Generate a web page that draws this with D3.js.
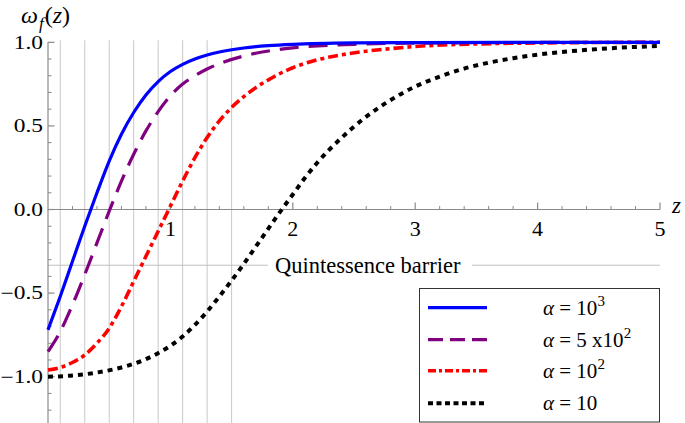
<!DOCTYPE html>
<html><head><meta charset="utf-8">
<script src="https://cdn.jsdelivr.net/npm/d3@7"></script>
</head>
<body style="margin:0">
<svg id="c" width="685" height="423"></svg>
<script>
// ---- data ----
const zBlue   = [0,0.1,0.2,0.3,0.4,0.5,0.6,0.7,0.8,0.9,1.0,1.1,1.2,1.3,1.4,1.6,1.8,2.0,2.5,3.0,4.0,5.0];
const wBlue   = [-0.72,-0.52,-0.31,-0.10,0.10,0.29,0.45,0.58,0.685,0.765,0.825,0.868,0.90,0.924,0.942,0.966,0.98,0.988,0.996,0.998,1.0,1.0];
const zPurple = [0,0.1,0.2,0.3,0.4,0.5,0.6,0.7,0.8,0.9,1.0,1.1,1.2,1.3,1.4,1.6,1.8,2.0,2.5,3.0,4.0,5.0];
const wPurple = [-0.85,-0.73,-0.57,-0.39,-0.20,-0.01,0.17,0.33,0.47,0.585,0.68,0.75,0.80,0.84,0.872,0.918,0.948,0.967,0.988,0.995,0.999,1.0];
const zRed    = [0,0.1,0.2,0.3,0.4,0.5,0.6,0.7,0.8,0.9,1.0,1.1,1.2,1.3,1.4,1.5,1.6,1.7,1.8,1.9,2.0,2.2,2.4,2.6,2.8,3.0,3.5,4.0,5.0];
const wRed    = [-0.96,-0.945,-0.915,-0.87,-0.80,-0.71,-0.58,-0.43,-0.28,-0.13,0.02,0.17,0.31,0.43,0.53,0.61,0.675,0.73,0.775,0.815,0.848,0.895,0.925,0.947,0.962,0.975,0.99,0.996,1.0];
const zBlack  = [0,0.2,0.4,0.6,0.8,1.0,1.1,1.2,1.3,1.4,1.5,1.6,1.7,1.8,1.9,2.0,2.1,2.2,2.4,2.6,2.8,3.0,3.2,3.4,3.6,3.8,4.0,4.5,5.0];
const wBlack  = [-1.0,-0.993,-0.975,-0.945,-0.895,-0.815,-0.76,-0.69,-0.61,-0.52,-0.425,-0.325,-0.22,-0.115,-0.01,0.09,0.19,0.28,0.43,0.555,0.655,0.735,0.795,0.843,0.878,0.905,0.926,0.96,0.978];

const seriesLabels = ["10^3","5 x10^2","10^2","10"];
const xTicks = [1,2,3,4,5];
const yTicks = [-1.0,-0.5,0.0,0.5,1.0];
const gridZ = [0.1,0.3,0.5,0.7,0.9,1.1,1.3,1.5];
const barrier = -1/3;

const svg = d3.select("#c");
const x = d3.scaleLinear().domain([0,5]).range([48,660]);
const y = d3.scaleLinear().domain([-1,1]).range([376.7,42.3]);
const yBottom = 423;

function txt(sel){
  return sel.attr("font-family","Liberation Serif")
            .style("font-family",'"Liberation Serif", Tinos, "Times New Roman", monospace');
}

// vertical grid lines
svg.append("g").selectAll("line").data(gridZ).join("line")
  .attr("x1",d=>x(d)).attr("x2",d=>x(d))
  .attr("y1",y(1.0)-2).attr("y2",yBottom)
  .attr("stroke","#c8c8c8").attr("stroke-width",1);

// quintessence barrier line (with a gap for the label)
const by = y(barrier);
svg.append("line").attr("x1",x(0)).attr("x2",268).attr("y1",by).attr("y2",by)
  .attr("stroke","#c0c0c0").attr("stroke-width",1);
svg.append("line").attr("x1",472).attr("x2",x(5)).attr("y1",by).attr("y2",by)
  .attr("stroke","#c0c0c0").attr("stroke-width",1);
txt(svg.append("text")).attr("x",275).attr("y",by+8).attr("font-size",22.5)
  .text("Quintessence barrier");

// axes
const axisCol = "#8a8a8a";
svg.append("line").attr("x1",x(0)).attr("x2",x(0)).attr("y1",y(1.0)).attr("y2",yBottom)
  .attr("stroke",axisCol).attr("stroke-width",1.2);
const yMinor = d3.range(-12,11).map(i=>i/10).filter(v=>Math.abs(v*2-Math.round(v*2))>1e-6);
svg.append("g").selectAll("line").data(yMinor).join("line")
  .attr("x1",x(0)).attr("x2",x(0)+3.5).attr("y1",d=>y(d)).attr("y2",d=>y(d))
  .attr("stroke",axisCol).attr("stroke-width",1);
svg.append("g").selectAll("line").data(yTicks).join("line")
  .attr("x1",x(0)).attr("x2",x(0)+6.5).attr("y1",d=>y(d)).attr("y2",d=>y(d))
  .attr("stroke",axisCol).attr("stroke-width",1.2);
txt(svg.append("g").selectAll("text").data(yTicks).join("text"))
  .attr("transform",d=>`translate(43,${y(d)+6.2}) scale(1.3,1)`)
  .attr("text-anchor","end").attr("font-size",18)
  .text(d=>(d<0?"\u2212":"")+Math.abs(d).toFixed(1));

svg.append("line").attr("x1",x(0)).attr("x2",x(5)).attr("y1",y(0)).attr("y2",y(0))
  .attr("stroke",axisCol).attr("stroke-width",1.2);
const xMinor = d3.range(1,25).map(i=>i/5).filter(v=>Math.abs(v-Math.round(v))>1e-6);
svg.append("g").selectAll("line").data(xMinor).join("line")
  .attr("x1",d=>x(d)).attr("x2",d=>x(d)).attr("y1",y(0)).attr("y2",y(0)-3.5)
  .attr("stroke",axisCol).attr("stroke-width",1);
svg.append("g").selectAll("line").data(xTicks).join("line")
  .attr("x1",d=>x(d)).attr("x2",d=>x(d)).attr("y1",y(0)).attr("y2",y(0)-7)
  .attr("stroke",axisCol).attr("stroke-width",1.2);
txt(svg.append("g").selectAll("text").data(xTicks).join("text"))
  .attr("x",d=>x(d)).attr("y",y(0)+26).attr("text-anchor","middle").attr("font-size",22)
  .text(d=>d);

// axis labels
txt(svg.append("text")).attr("x",672).attr("y",y(0)+3).attr("font-size",23).attr("font-style","italic").text("z");
const tl = txt(svg.append("text")).attr("x",21).attr("y",23).attr("font-size",24);
tl.append("tspan").attr("font-style","italic").text("\u03C9");
tl.append("tspan").attr("font-style","italic").attr("font-size",17).attr("dy",6).attr("dx",1).text("f");
tl.append("tspan").attr("dy",-6).attr("dx",1).text("(");
tl.append("tspan").attr("font-style","italic").text("z");
tl.append("tspan").text(")");

// curves
const styles = [
  {z:zBlue, w:wBlue, color:"#0000ff", dash:null, lw:3.2, ldash:null},
  {z:zPurple, w:wPurple, color:"#800080", dash:"19,10", lw:3.2, ldash:"15,7"},
  {z:zRed, w:wRed, color:"#ff0000", dash:"10,4,4,4", lw:3.6, ldash:"8,3,3,3"},
  {z:zBlack, w:wBlack, color:"#000000", dash:"5,5", lw:4, ldash:"5,3.5"}
];
const line = d3.line().x(d=>x(d[0])).y(d=>y(d[1])).curve(d3.curveMonotoneX);
styles.slice().reverse().forEach(s=>{
  svg.append("path").datum(s.z.map((zz,i)=>[zz,s.w[i]]))
    .attr("d",line).attr("fill","none").attr("stroke",s.color)
    .attr("stroke-width",s.lw).attr("stroke-dasharray",s.dash);
});

// legend
svg.append("rect").attr("x",419.5).attr("y",288.5).attr("width",240).attr("height",133.5)
  .attr("fill","#fff").attr("stroke","#333").attr("stroke-width",1);
const rowsY = [307.7,339.7,370.7,403.3];
styles.forEach((s,i)=>{
  svg.append("line").attr("x1",428).attr("x2",487).attr("y1",rowsY[i]).attr("y2",rowsY[i])
    .attr("stroke",s.color).attr("stroke-width",s.lw).attr("stroke-dasharray",s.ldash);
  const t = txt(svg.append("text")).attr("x",543).attr("y",rowsY[i]+7).attr("font-size",21);
  t.append("tspan").attr("font-style","italic").text("\u03B1");
  const parts = seriesLabels[i].split("^");
  t.append("tspan").text(" = "+parts[0]);
  if(parts[1]){
    t.append("tspan").attr("font-size",15).attr("dy",-9).text(parts[1]);
  }
});
</script>
</body></html>
